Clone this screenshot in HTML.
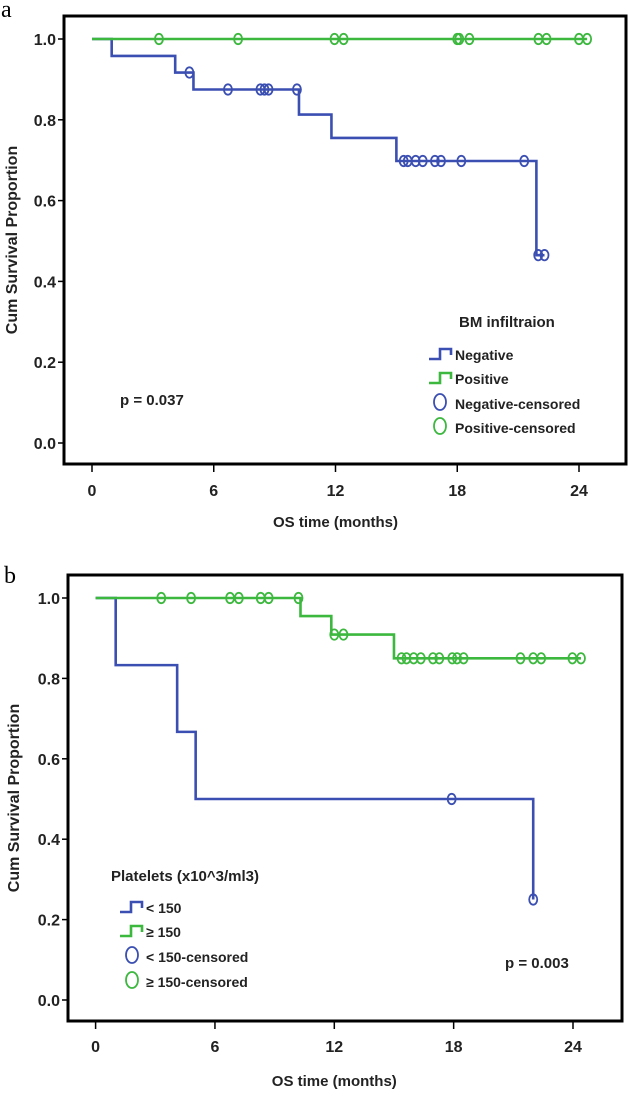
<!DOCTYPE html>
<html><head><meta charset="utf-8"><style>
html,body{margin:0;padding:0;background:#fff;}
svg{display:block;font-family:"Liberation Sans",Arial,sans-serif;}
</style></head><body>
<svg id="fig" width="629" height="1097" viewBox="0 0 629 1097" xmlns="http://www.w3.org/2000/svg"></svg>
<script>
// ---- Panel a data ----
const aNegSteps = [[0,1.0],[0.97,0.958],[4.1,0.917],[5.0,0.875],[10.2,0.813],[11.8,0.755],[15.0,0.698],[21.9,0.465]];
const aNegEnd = 22.3;
const aNegCens = [[4.8,0.917],[6.7,0.875],[8.3,0.875],[8.5,0.875],[8.7,0.875],[10.1,0.875],[15.36,0.698],[15.56,0.698],[15.95,0.698],[16.3,0.698],[16.9,0.698],[17.2,0.698],[18.2,0.698],[21.3,0.698],[21.99,0.465],[22.3,0.465]];
const aPosSteps = [[0,1.0]];
const aPosEnd = 24.4;
const aPosCens = [[3.3,1],[7.2,1],[11.95,1],[12.4,1],[18.0,1],[18.1,1],[18.6,1],[22.0,1],[22.4,1],[24.0,1],[24.4,1]];
// ---- Panel b data ----
const bLowSteps = [[0,1.0],[1.01,0.833],[4.1,0.667],[5.03,0.5],[22.0,0.25]];
const bLowEnd = 22.0;
const bLowCens = [[17.9,0.5],[22.0,0.25]];
const bHighSteps = [[0,1.0],[10.3,0.955],[11.85,0.909],[15.0,0.85]];
const bHighEnd = 24.4;
const bHighCens = [[3.3,1],[4.8,1],[6.76,1],[7.2,1],[8.3,1],[8.7,1],[10.2,1],[12.0,0.909],[12.46,0.909],[15.38,0.85],[15.63,0.85],[15.99,0.85],[16.35,0.85],[16.96,0.85],[17.28,0.85],[17.93,0.85],[18.17,0.85],[18.5,0.85],[21.36,0.85],[22.0,0.85],[22.4,0.85],[23.97,0.85],[24.4,0.85]];
const xTicks = [0,6,12,18,24];
const yTicks = [0,0.2,0.4,0.6,0.8,1.0];

const BLUE="#3b4fb2", GREEN="#3cb83e";
const svg=document.getElementById('fig');
const NS="http://www.w3.org/2000/svg";
function mk(tag,attrs,parent){const e=document.createElementNS(NS,tag);for(const k in attrs)e.setAttribute(k,attrs[k]);(parent||svg).appendChild(e);return e;}
function txt(s,attrs,parent){const e=mk('text',attrs,parent);e.textContent=s;return e;}

function panel(P){
  const g=mk('g',{});
  
  
  const X=v=>P.x0+v*(P.x24-P.x0)/24;
  const Y=v=>P.y0+v*(P.y1-P.y0);
  const lbl=txt(P.letter,{x:P.lx,y:P.ly,'font-family':'"Liberation Serif",serif','font-size':24},g);
  
  
  const box=mk('rect',{x:P.bx,y:P.by,width:P.bw,height:P.bh,fill:'none',stroke:'#000','stroke-width':3},g);
  
  
  yTicks.forEach(t=>{
    mk('line',{x1:P.bx-6,x2:P.bx,y1:Y(t),y2:Y(t),stroke:'#000','stroke-width':1.5},g);
    const e=txt(t.toFixed(1),{x:P.bx-8,y:Y(t)+6,'text-anchor':'end','font-size':16,'font-weight':'bold',fill:'#222'},g);
    
    
  });
  xTicks.forEach(t=>{
    mk('line',{x1:X(t),x2:X(t),y1:P.by+P.bh,y2:P.by+P.bh+8,stroke:'#000','stroke-width':1.5},g);
    const e=txt(String(t),{x:X(t),y:P.xty,'text-anchor':'middle','font-size':16,'font-weight':'bold',fill:'#222'},g);
    
    
  });
  const xt=txt('OS time (months)',{x:(X(0)+X(24))/2,y:P.xtitle,'text-anchor':'middle','font-size':15,'font-weight':'bold',fill:'#222'},g);
  
  
  const yt=txt('Cum Survival Proportion',{x:0,y:0,transform:`translate(${P.ytx},${P.yty}) rotate(-90)`,'text-anchor':'middle','font-size':16,'font-weight':'bold',fill:'#222'},g);
  
  
  P.series.forEach(S=>{
    let d=`M${X(S.steps[0][0])},${Y(S.steps[0][1])}`;
    for(let i=1;i<S.steps.length;i++){d+=` H${X(S.steps[i][0])} V${Y(S.steps[i][1])}`;}
    d+=` H${X(S.end)}`;
    const p=mk('path',{d:d,fill:'none',stroke:S.color,'stroke-width':2.6},g);
    
    
    S.cens.forEach(c=>{
      const e=mk('ellipse',{cx:X(c[0]),cy:Y(c[1]),rx:4,ry:5.2,fill:'none',stroke:S.color,'stroke-width':1.8},g);
      
      
    });
  });
  const L=P.legend;
  const lg=mk('g',{},g);
  
  
  txt(L.title,{x:L.tx,y:L.ty,'font-size':15,'font-weight':'bold',fill:'#222'},lg);
  L.items.forEach((it,i)=>{
    const y=L.ys[i];
    const ent=mk('g',{},lg);
    
    
    if(it.step){
      mk('path',{d:`M${L.ix},${y+2} H${L.ix+11} V${y-8} H${L.ix+22} V${y-2}`,fill:'none',stroke:it.color,'stroke-width':2.6},ent);
    } else {
      mk('ellipse',{cx:L.cx,cy:y-4,rx:6,ry:8,fill:'none',stroke:it.color,'stroke-width':1.8},ent);
    }
    txt(it.label,{x:L.textx,y:y+3,'font-size':14,'font-weight':'bold',fill:'#222'},ent);
  });
  const pv=txt(P.p.text,{x:P.p.x,y:P.p.y,'font-size':15,'font-weight':'bold',fill:'#222'},g);
  
  
}

panel({name:'panel-a',letter:'a',lx:1,ly:17,bx:64,by:16,bw:562,bh:448,x0:92,x24:579,y0:443,y1:39,xty:496,xtitle:527,ytx:17,yty:240,
  series:[{name:'negative',color:BLUE,steps:aNegSteps,end:aNegEnd,cens:aNegCens},{name:'positive',color:GREEN,steps:aPosSteps,end:aPosEnd,cens:aPosCens}],
  legend:{title:'BM infiltraion',tx:459,ty:327,ix:429,cx:440,textx:455,ys:[357,381,406,430],
    items:[{step:true,color:BLUE,label:'Negative'},{step:true,color:GREEN,label:'Positive'},{step:false,color:BLUE,label:'Negative-censored'},{step:false,color:GREEN,label:'Positive-censored'}]},
  p:{text:'p = 0.037',x:120,y:405}});

panel({name:'panel-b',letter:'b',lx:4,ly:583,bx:68,by:575,bw:554,bh:446,x0:95.6,x24:573,y0:1000,y1:598,xty:1052,xtitle:1086,ytx:19,yty:798,
  series:[{name:'platelets-low',color:BLUE,steps:bLowSteps,end:bLowEnd,cens:bLowCens},{name:'platelets-high',color:GREEN,steps:bHighSteps,end:bHighEnd,cens:bHighCens}],
  legend:{title:'Platelets (x10^3/ml3)',tx:111,ty:881,ix:120,cx:132,textx:146,ys:[910,934,959,984],
    items:[{step:true,color:BLUE,label:'< 150'},{step:true,color:GREEN,label:'≥ 150'},{step:false,color:BLUE,label:'< 150-censored'},{step:false,color:GREEN,label:'≥ 150-censored'}]},
  p:{text:'p = 0.003',x:505,y:968}});
</script>
</body></html>
